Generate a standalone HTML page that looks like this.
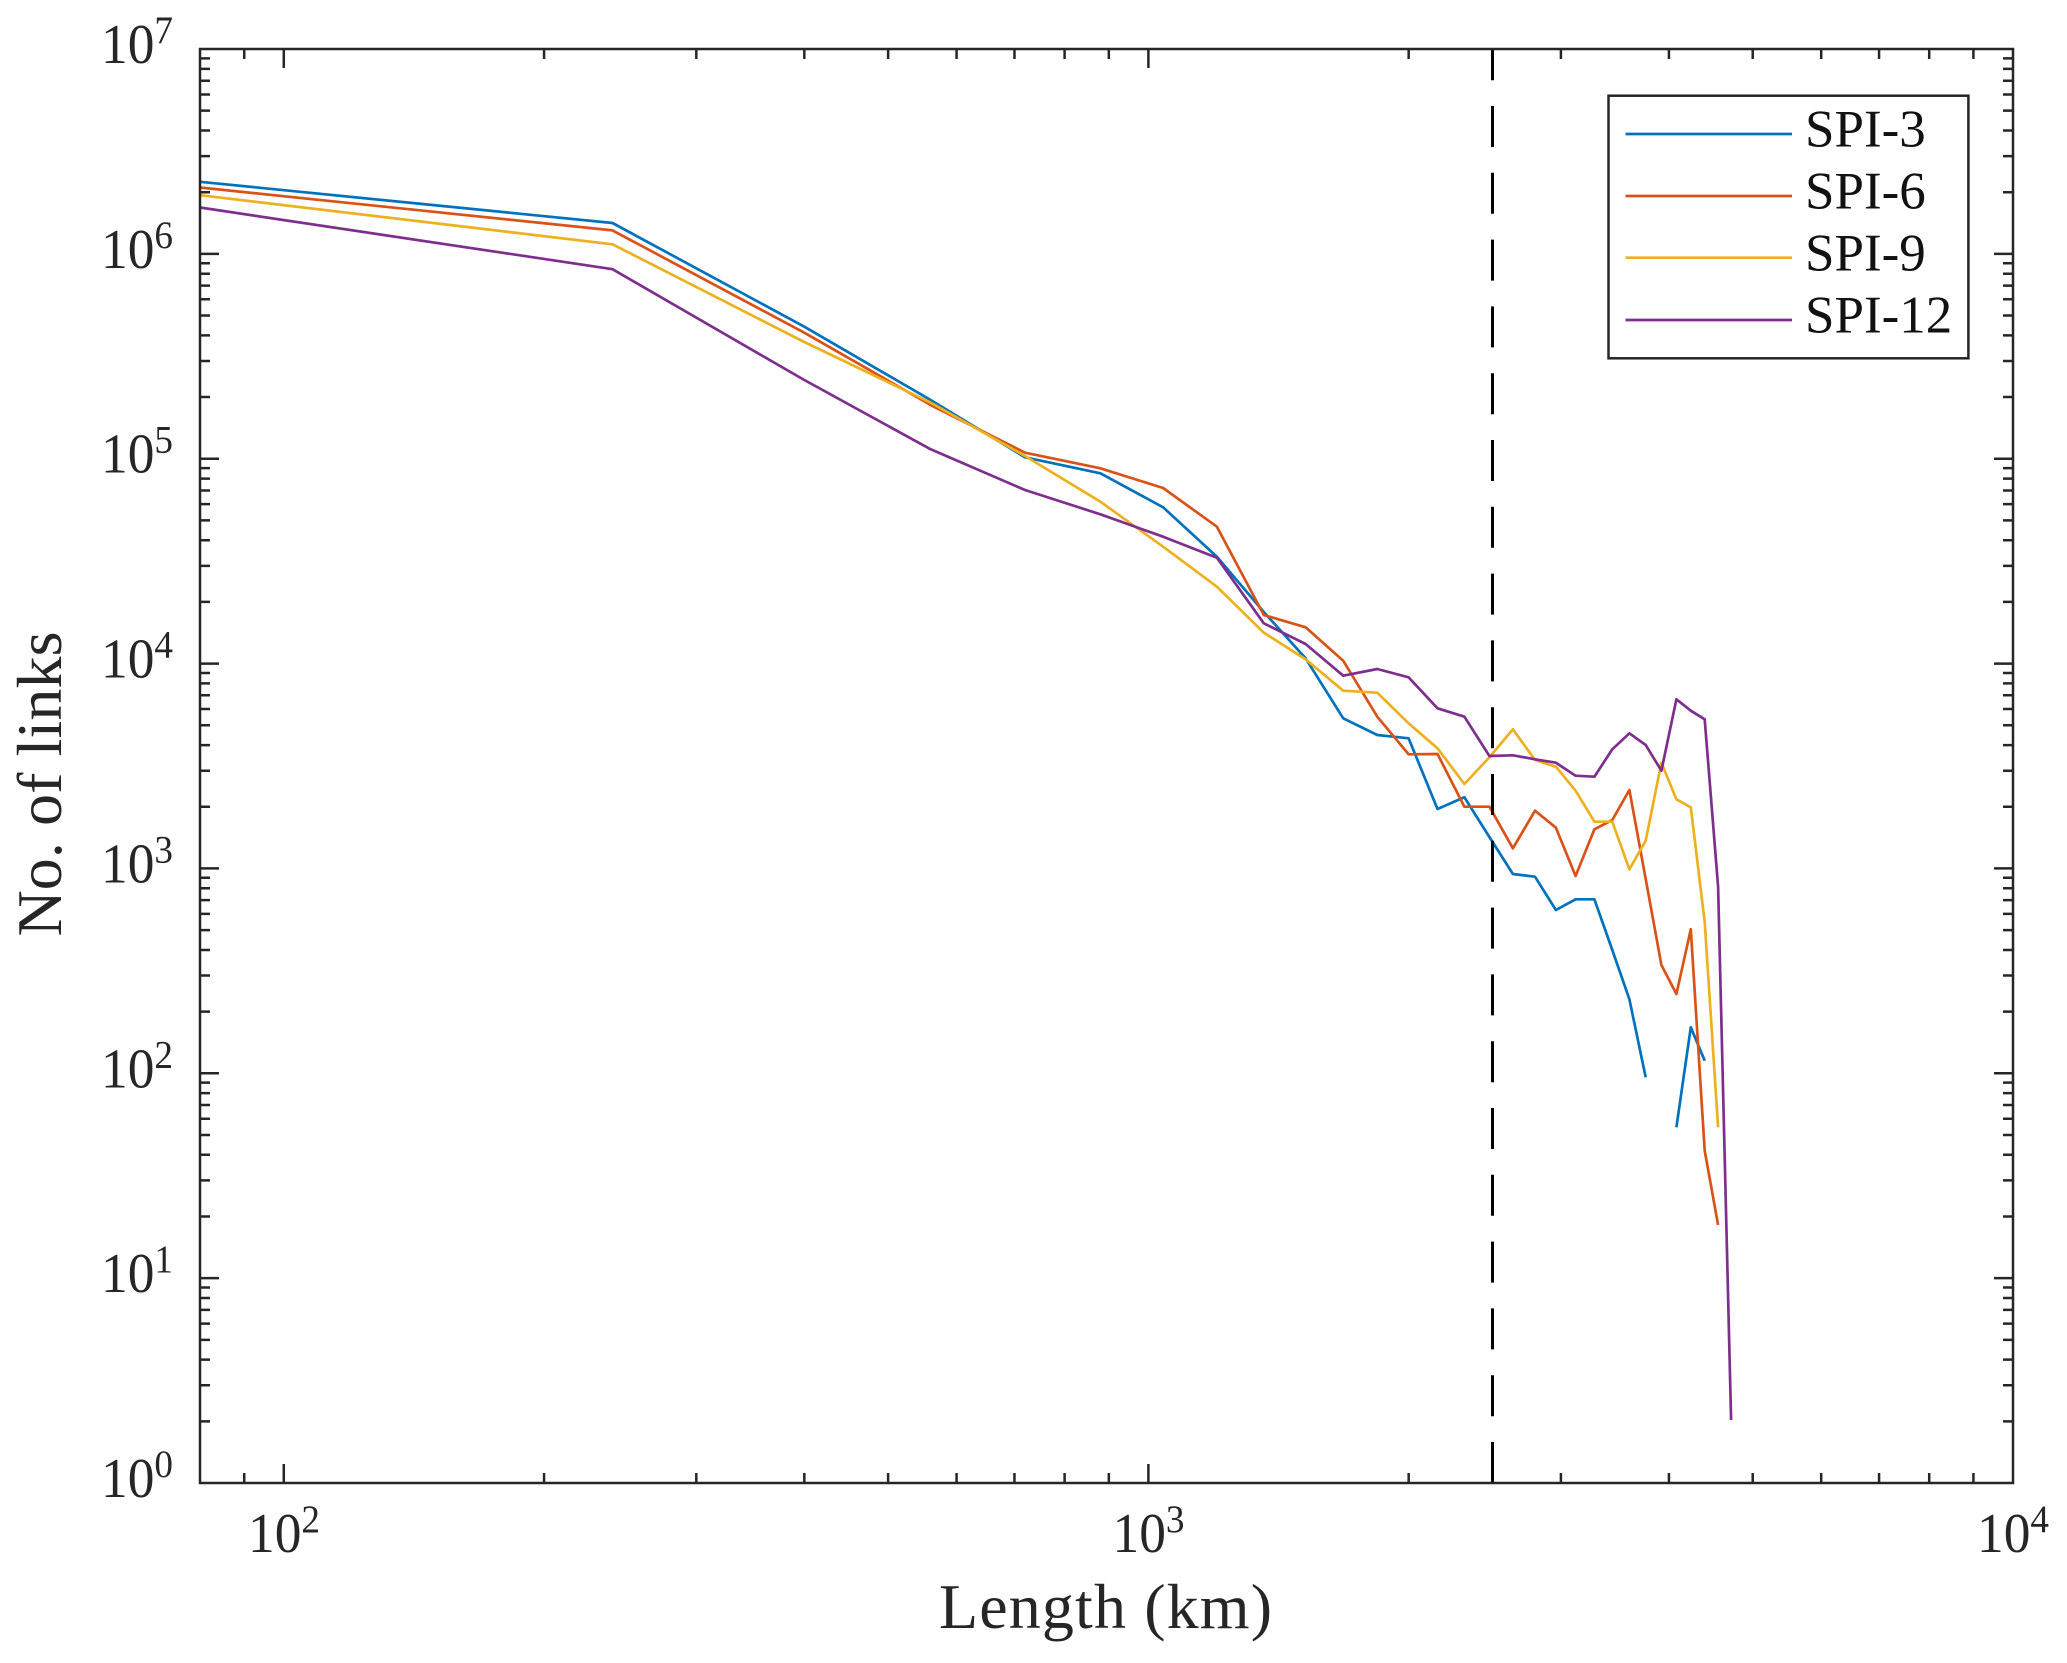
<!DOCTYPE html>
<html>
<head>
<meta charset="utf-8">
<style>
html,body{margin:0;padding:0;background:#fff;}
svg{display:block;}
text{font-family:"Liberation Serif","DejaVu Serif",serif;fill:#262626;}
</style>
</head>
<body>
<svg xmlns="http://www.w3.org/2000/svg" width="2067" height="1663" viewBox="0 0 2067 1663">
<rect x="0" y="0" width="2067" height="1663" fill="#fff"/>
<defs>
<clipPath id="pa"><rect x="200" y="49" width="1813" height="1434"/></clipPath>
<path id="ym" d="M200 9.37h10M200 19.85h10M200 31.73h10M200 45.45h10M200 61.67h10M200 81.52h10M200 107.12h10M200 143.19h10M2013 9.37h-10M2013 19.85h-10M2013 31.73h-10M2013 45.45h-10M2013 61.67h-10M2013 81.52h-10M2013 107.12h-10M2013 143.19h-10" stroke="#262626" stroke-width="2.5" fill="none"/>
</defs>

<!-- data series -->
<g clip-path="url(#pa)" fill="none" stroke-width="2.7" stroke-linejoin="round" stroke-linecap="butt">
<polyline stroke="#0072BD" points="200,181.8 612.5,223 804.3,326.7 930.7,400 1025,457.3 1100.4,473.3 1163.1,507.3 1216.9,556.7 1263.8,612 1305.6,658.3 1343.2,718.3 1377.3,735 1408.6,738.3 1437.5,809 1464.4,797.3 1489.4,837 1512.9,874 1535,876.7 1555.9,910 1575.6,899.3 1594.4,899.3 1612.3,950 1629.4,999.3 1645.7,1077.3"/>
<polyline stroke="#0072BD" points="1676.4,1127.3 1690.8,1027.3 1704.7,1060.7"/>
<polyline stroke="#D95319" points="200,187.5 612.5,230.4 804.3,332.7 930.7,405 1025,452.7 1100.4,468.3 1163.1,488 1216.9,526.7 1263.8,615 1305.6,627.3 1343.2,660.7 1377.3,716.7 1408.6,754.3 1437.5,754 1464.4,806.7 1489.4,806.7 1512.9,848.3 1535,810.7 1555.9,827.7 1575.6,876 1594.4,829.3 1612.3,820 1629.4,790 1645.7,879 1661.4,965 1676.4,994 1690.8,929.3 1704.7,1150.7 1718.1,1225"/>
<polyline stroke="#EDB120" points="200,195.2 612.5,244.3 804.3,342 930.7,402.7 1025,456 1100.4,501.7 1163.1,546.7 1216.9,586.7 1263.8,632.7 1305.6,659.3 1343.2,690.7 1377.3,692.7 1408.6,723.3 1437.5,748.3 1464.4,784 1489.4,757.3 1512.9,729.3 1535,760 1555.9,766.7 1575.6,790.7 1594.4,821.7 1612.3,821.7 1629.4,869.3 1645.7,840.7 1661.4,762.7 1676.4,799.3 1690.8,807.3 1704.7,922 1718.1,1127.3"/>
<polyline stroke="#7E2F8E" points="200,207.5 612.5,269.2 804.3,380 930.7,449.3 1025,490 1100.4,514.3 1163.1,536.7 1216.9,557.7 1263.8,623.3 1305.6,644 1343.2,675.7 1377.3,669 1408.6,677.3 1437.5,708.3 1464.4,716.7 1489.4,756 1512.9,755.3 1535,759.3 1555.9,762.7 1575.6,775.7 1594.4,776.7 1612.3,749.3 1629.4,733.3 1645.7,745 1661.4,770.7 1676.4,699.3 1690.8,710.7 1704.7,719.3 1718.1,886.7 1731.1,1420"/>
</g>

<!-- dashed vertical line -->
<line x1="1492.5" y1="1483" x2="1492.5" y2="49" stroke="#000" stroke-width="3" stroke-dasharray="41 25.8"/>

<!-- axes box -->
<rect x="200" y="49" width="1813" height="1434" fill="none" stroke="#262626" stroke-width="2.5"/>

<!-- y minor ticks -->
<use href="#ym" x="0" y="49"/>
<use href="#ym" x="0" y="253.857"/>
<use href="#ym" x="0" y="458.714"/>
<use href="#ym" x="0" y="663.571"/>
<use href="#ym" x="0" y="868.429"/>
<use href="#ym" x="0" y="1073.286"/>
<use href="#ym" x="0" y="1278.143"/>

<!-- y major ticks -->
<path d="M200 253.857h19M200 458.714h19M200 663.571h19M200 868.429h19M200 1073.286h19M200 1278.143h19M2013 253.857h-19M2013 458.714h-19M2013 663.571h-19M2013 868.429h-19M2013 1073.286h-19M2013 1278.143h-19" stroke="#262626" stroke-width="2.5" fill="none"/>

<!-- x ticks -->
<path d="M244.23 1483v-10M544.06 1483v-10M696.31 1483v-10M804.33 1483v-10M888.12 1483v-10M956.58 1483v-10M1014.46 1483v-10M1064.6 1483v-10M1108.83 1483v-10M1408.66 1483v-10M1560.91 1483v-10M1668.93 1483v-10M1752.72 1483v-10M1821.18 1483v-10M1879.06 1483v-10M1929.2 1483v-10M1973.43 1483v-10M283.79 1483v-19M1148.39 1483v-19M244.23 49v10M544.06 49v10M696.31 49v10M804.33 49v10M888.12 49v10M956.58 49v10M1014.46 49v10M1064.6 49v10M1108.83 49v10M1408.66 49v10M1560.91 49v10M1668.93 49v10M1752.72 49v10M1821.18 49v10M1879.06 49v10M1929.2 49v10M1973.43 49v10M283.79 49v19M1148.39 49v19" stroke="#262626" stroke-width="2.5" fill="none"/>

<!-- y tick labels -->
<g font-size="56" text-anchor="end">
<text x="173" y="63" textLength="72" lengthAdjust="spacingAndGlyphs">10<tspan font-size="39" dy="-20">7</tspan></text>
<text x="173" y="267.9" textLength="72" lengthAdjust="spacingAndGlyphs">10<tspan font-size="39" dy="-20">6</tspan></text>
<text x="173" y="472.7" textLength="72" lengthAdjust="spacingAndGlyphs">10<tspan font-size="39" dy="-20">5</tspan></text>
<text x="173" y="677.6" textLength="72" lengthAdjust="spacingAndGlyphs">10<tspan font-size="39" dy="-20">4</tspan></text>
<text x="173" y="882.4" textLength="72" lengthAdjust="spacingAndGlyphs">10<tspan font-size="39" dy="-20">3</tspan></text>
<text x="173" y="1087.3" textLength="72" lengthAdjust="spacingAndGlyphs">10<tspan font-size="39" dy="-20">2</tspan></text>
<text x="173" y="1292.1" textLength="72" lengthAdjust="spacingAndGlyphs">10<tspan font-size="39" dy="-20">1</tspan></text>
<text x="173" y="1497" textLength="72" lengthAdjust="spacingAndGlyphs">10<tspan font-size="39" dy="-20">0</tspan></text>
</g>

<!-- x tick labels -->
<g font-size="56" text-anchor="middle">
<text x="284" y="1552" textLength="72" lengthAdjust="spacingAndGlyphs">10<tspan font-size="39" dy="-20">2</tspan></text>
<text x="1148.5" y="1552" textLength="72" lengthAdjust="spacingAndGlyphs">10<tspan font-size="39" dy="-20">3</tspan></text>
<text x="2013" y="1552" textLength="72" lengthAdjust="spacingAndGlyphs">10<tspan font-size="39" dy="-20">4</tspan></text>
</g>

<!-- axis labels -->
<text x="1105.5" y="1628" font-size="64" text-anchor="middle" textLength="333">Length (km)</text>
<text transform="translate(61,784) rotate(-90)" font-size="64" text-anchor="middle" textLength="305">No. of links</text>

<!-- legend -->
<rect x="1608.5" y="95.7" width="359.9" height="262.6" fill="#fff" stroke="#262626" stroke-width="2.5"/>
<line x1="1625.5" y1="134" x2="1792" y2="134" stroke="#0072BD" stroke-width="2.7"/>
<line x1="1625.5" y1="196" x2="1792" y2="196" stroke="#D95319" stroke-width="2.7"/>
<line x1="1625.5" y1="257.7" x2="1792" y2="257.7" stroke="#EDB120" stroke-width="2.7"/>
<line x1="1625.5" y1="320" x2="1792" y2="320" stroke="#7E2F8E" stroke-width="2.7"/>
<g font-size="53">
<text x="1805" y="146.7" style="fill:#111">SPI-3</text>
<text x="1805" y="208.7" style="fill:#111">SPI-6</text>
<text x="1805" y="270.4" style="fill:#111">SPI-9</text>
<text x="1805" y="332.7" style="fill:#111">SPI-12</text>
</g>
</svg>
</body>
</html>
